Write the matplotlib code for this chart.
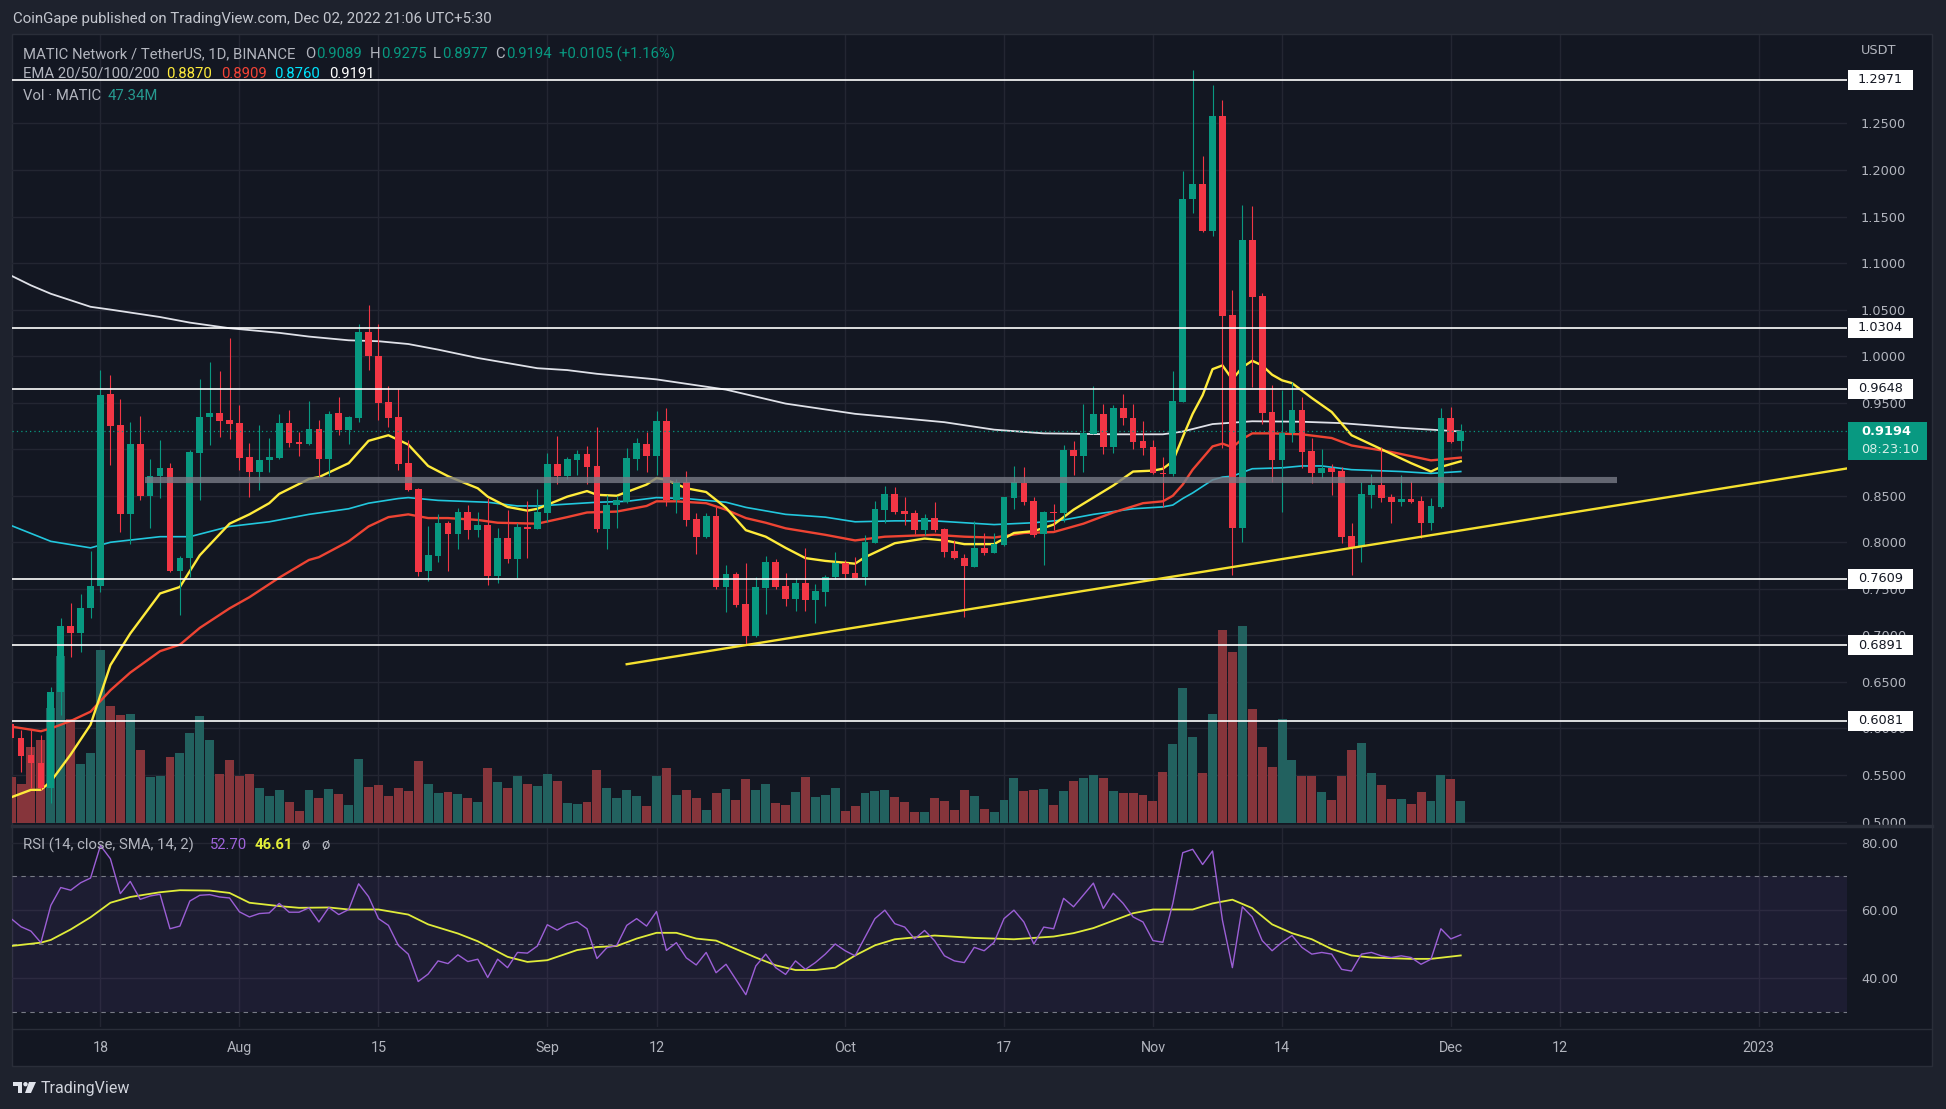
import numpy as np
import pandas as pd
import matplotlib
matplotlib.use("Agg")
from matplotlib import pyplot as plt
from matplotlib import dates as mdates
from matplotlib import transforms
from matplotlib.patches import Rectangle, Polygon, Circle

# ---------------- data ----------------
first_day = "2022-07-09"
opens = [0.6044, 0.5894, 0.5715, 0.5625, 0.5357, 0.6388, 0.7100, 0.7029, 0.7290,
         0.7530, 0.9592, 0.9259, 0.8303, 0.9055, 0.8497, 0.8711, 0.8797, 0.7691, 0.7827,
         0.8962, 0.9342, 0.9385, 0.9313, 0.9277, 0.8912, 0.8758, 0.8883, 0.8908, 0.9277,
         0.9080, 0.9059, 0.9216, 0.8893, 0.9387, 0.9205, 0.9337, 1.0261, 1.0000, 0.9506,
         0.9348, 0.8850, 0.8571, 0.7690, 0.7856, 0.8206, 0.8088, 0.8324, 0.8131, 0.8185,
         0.7637, 0.8045, 0.7823, 0.8163, 0.8141, 0.8317, 0.8840, 0.8711, 0.8883, 0.8951,
         0.8818, 0.8142, 0.8400, 0.8436, 0.8898, 0.9055, 0.8926, 0.9302, 0.8454, 0.8644,
         0.8246, 0.8053, 0.8282, 0.7523, 0.7659, 0.7337, 0.6997, 0.7509, 0.7788, 0.7530,
         0.7390, 0.7562, 0.7379, 0.7466, 0.7627, 0.7777, 0.7673, 0.7630, 0.7996, 0.8350,
         0.8514, 0.8335, 0.8310, 0.8131, 0.8256, 0.8142, 0.7906, 0.7827, 0.7737, 0.7934,
         0.7884, 0.7970, 0.8479, 0.8636, 0.8443, 0.8088, 0.8328, 0.8317, 0.8990, 0.8930,
         0.9162, 0.9377, 0.9026, 0.9438, 0.9330, 0.9087, 0.9019, 0.8747, 0.8729, 0.9509,
         1.1686, 1.1844, 1.1346, 1.2578, 1.0440, 0.8156, 1.1246, 1.0644, 0.9402, 0.8883,
         0.9176, 0.9420, 0.8980, 0.8740, 0.8793, 0.8765, 0.8066, 0.7952, 0.8507, 0.8614,
         0.8489, 0.8435, 0.8464, 0.8443, 0.8210, 0.8382, 0.9331, 0.9089]
highs = [0.6100, 0.5983, 0.5983, 0.5930, 0.6449, 0.7183, 0.7344, 0.7440, 0.7906,
         0.9850, 0.9796, 0.9538, 0.9295, 0.9356, 0.8894, 0.9098, 0.8847, 0.7856, 0.8991,
         0.9753, 0.9932, 0.9839, 1.0190, 0.9474, 0.9062, 0.9259, 0.9116, 0.9377, 0.9417,
         0.9188, 0.9517, 0.9312, 0.9409, 0.9563, 0.9359, 1.0343, 1.0547, 1.0343, 0.9677,
         0.9645, 0.9097, 0.8578, 0.8174, 0.8303, 0.8231, 0.8364, 0.8399, 0.8320, 0.8471,
         0.8149, 0.8346, 0.8203, 0.8446, 0.8571, 0.8962, 0.9144, 0.8919, 0.8990, 0.9036,
         0.9240, 0.8507, 0.8497, 0.9009, 0.9123, 0.9188, 0.9410, 0.9438, 0.8679, 0.8765,
         0.8311, 0.8311, 0.8375, 0.7756, 0.7684, 0.7773, 0.7630, 0.7852, 0.7816, 0.7666,
         0.7612, 0.7935, 0.7551, 0.7648, 0.7899, 0.7809, 0.7845, 0.8078, 0.8443, 0.8604,
         0.8589, 0.8482, 0.8346, 0.8300, 0.8428, 0.8149, 0.8024, 0.7874, 0.8228, 0.8095,
         0.8095, 0.8489, 0.8819, 0.8804, 0.8482, 0.8335, 0.8407, 0.9044, 0.9087, 0.9484,
         0.9678, 0.9484, 0.9474, 0.9592, 0.9484, 0.9302, 0.9098, 0.8919, 0.9839, 1.1987,
         1.3072, 1.2148, 1.2911, 1.2750, 1.0709, 1.1622, 1.1611, 1.0673, 0.9688, 0.9635,
         0.9724, 0.9563, 0.9116, 0.9001, 0.8836, 0.8811, 0.8203, 0.8650, 0.8729, 0.9019,
         0.8514, 0.8722, 0.8657, 0.8496, 0.8472, 0.9438, 0.9456, 0.9275]
lows = [0.5870, 0.5529, 0.5357, 0.5340, 0.5195, 0.6144, 0.6771, 0.6825, 0.7183,
        0.7462, 0.8830, 0.8114, 0.7977, 0.8454, 0.8149, 0.8472, 0.7684, 0.7219, 0.7630,
        0.8454, 0.9045, 0.9134, 0.9109, 0.8776, 0.8489, 0.8561, 0.8758, 0.8894, 0.9027,
        0.8930, 0.9045, 0.8704, 0.8711, 0.9151, 0.9055, 0.9294, 0.9856, 0.9312, 0.9241,
        0.8775, 0.8553, 0.7637, 0.7586, 0.7791, 0.7694, 0.7923, 0.8031, 0.8052, 0.7540,
        0.7558, 0.7780, 0.7619, 0.7834, 0.8141, 0.8220, 0.8625, 0.8675, 0.8722, 0.8625,
        0.8113, 0.7924, 0.8157, 0.8425, 0.8776, 0.8758, 0.8722, 0.8389, 0.8311, 0.8175,
        0.7874, 0.8042, 0.7498, 0.7254, 0.7308, 0.6896, 0.6986, 0.7229, 0.7494, 0.7315,
        0.7265, 0.7265, 0.7129, 0.7315, 0.7609, 0.7602, 0.7620, 0.7541, 0.7988, 0.8210,
        0.8300, 0.8185, 0.8088, 0.8077, 0.8113, 0.7845, 0.7820, 0.7200, 0.7737, 0.7863,
        0.7881, 0.7963, 0.8357, 0.8400, 0.8059, 0.7755, 0.8131, 0.8220, 0.8722, 0.8751,
        0.9162, 0.8944, 0.8954, 0.9259, 0.8997, 0.8937, 0.8729, 0.8382, 0.8715, 0.9502,
        1.1540, 1.1335, 1.1293, 0.9008, 0.7650, 0.8006, 0.9671, 0.9266, 0.8650, 0.8321,
        0.9080, 0.8793, 0.8632, 0.8686, 0.8507, 0.7988, 0.7650, 0.7791, 0.8371, 0.8428,
        0.8203, 0.8393, 0.8418, 0.8049, 0.8131, 0.8371, 0.9062, 0.8977]
closes = [0.5894, 0.5708, 0.5625, 0.5357, 0.6388, 0.7100, 0.7029, 0.7290, 0.7530,
          0.9581, 0.9252, 0.8303, 0.9055, 0.8497, 0.8711, 0.8797, 0.7691, 0.7827, 0.8973,
          0.9342, 0.9385, 0.9306, 0.9274, 0.8908, 0.8758, 0.8883, 0.8915, 0.9277, 0.9070,
          0.9059, 0.9216, 0.8893, 0.9377, 0.9205, 0.9348, 1.0261, 1.0000, 0.9498, 0.9337,
          0.8843, 0.8560, 0.7683, 0.7859, 0.8206, 0.8088, 0.8324, 0.8131, 0.8185, 0.7637,
          0.8045, 0.7816, 0.8160, 0.8141, 0.8324, 0.8840, 0.8711, 0.8890, 0.8951, 0.8811,
          0.8141, 0.8400, 0.8454, 0.8905, 0.9062, 0.8926, 0.9302, 0.8454, 0.8644, 0.8239,
          0.8060, 0.8282, 0.7523, 0.7659, 0.7326, 0.6997, 0.7516, 0.7788, 0.7516, 0.7390,
          0.7562, 0.7379, 0.7476, 0.7630, 0.7777, 0.7659, 0.7620, 0.8006, 0.8357, 0.8518,
          0.8328, 0.8303, 0.8131, 0.8256, 0.8131, 0.7898, 0.7827, 0.7748, 0.7934, 0.7884,
          0.7977, 0.8482, 0.8643, 0.8436, 0.8077, 0.8321, 0.8314, 0.8990, 0.8930, 0.9169,
          0.9377, 0.9026, 0.9438, 0.9330, 0.9080, 0.9016, 0.8740, 0.8729, 0.9517, 1.1693,
          1.1844, 1.1346, 1.2578, 1.0433, 0.8156, 1.1246, 1.0637, 0.9391, 0.8883, 0.9176,
          0.9420, 0.8973, 0.8740, 0.8793, 0.8758, 0.8059, 0.7952, 0.8514, 0.8614, 0.8478,
          0.8435, 0.8464, 0.8435, 0.8210, 0.8389, 0.9331, 0.9080, 0.9194]
volumes = [99, 84, 163, 178, 247, 359, 224, 127, 150,
           372, 252, 232, 234, 157, 99, 101, 142, 150, 194,
           230, 178, 105, 135, 101, 105, 75, 58, 71, 45,
           26, 71, 54, 73, 62, 39, 138, 77, 82, 58,
           75, 69, 133, 84, 65, 67, 62, 54, 45, 118,
           88, 75, 101, 84, 80, 105, 90, 43, 41, 45,
           114, 75, 54, 71, 58, 37, 101, 118, 60, 71,
           54, 28, 65, 73, 49, 95, 71, 84, 43, 39,
           67, 99, 56, 60, 75, 26, 37, 65, 69, 71,
           56, 45, 24, 24, 54, 47, 28, 71, 58, 30,
           24, 49, 97, 69, 71, 73, 39, 69, 90, 97,
           103, 97, 69, 65, 65, 60, 47, 110, 170, 290,
           185, 108, 234, 415, 368, 424, 245, 163, 120, 224,
           135, 101, 101, 67, 49, 101, 157, 172, 108, 82,
           52, 52, 41, 67, 47, 103, 95, 47.34]
rsi = [57.5, 55.1, 53.8, 50.4, 61.4, 66.7, 65.9, 68.1, 69.5,
       79.1, 75.2, 64.9, 68.5, 63.2, 64.2, 64.7, 54.5, 55.3, 62.7,
       64.4, 64.6, 63.9, 63.6, 59.5, 58.0, 59.0, 59.2, 62.0, 59.4,
       59.4, 60.7, 56.5, 60.8, 58.7, 60.2, 67.8, 64.0, 57.5, 55.5,
       49.6, 47.0, 38.9, 41.1, 45.0, 44.2, 46.8, 44.8, 45.5, 40.1,
       45.5, 43.0, 47.5, 47.3, 49.4, 55.7, 54.1, 55.8, 56.6, 54.5,
       45.7, 48.9, 49.6, 55.5, 57.5, 55.3, 59.6, 48.1, 50.4, 45.9,
       43.8, 47.5, 41.5, 44.0, 39.5, 35.0, 43.5, 47.0, 43.0, 41.0,
       45.0, 42.5, 44.5, 47.0, 50.0, 48.0, 46.5, 52.0, 57.5, 60.0,
       56.0, 55.0, 51.5, 54.0, 51.0, 46.5, 45.0, 44.5, 49.0, 48.0,
       50.5, 57.5, 60.0, 56.5, 50.0, 55.0, 54.5, 63.5, 61.0, 64.5,
       68.0, 60.5, 65.0, 62.0, 58.0, 56.5, 51.0, 50.5, 62.0, 77.0,
       78.0, 73.5, 77.5, 57.0, 43.0, 61.0, 58.0, 51.0, 48.0, 50.5,
       52.5, 49.0, 47.0, 47.5, 47.0, 42.5, 42.0, 47.0, 47.5, 46.5,
       46.0, 46.5, 46.0, 44.0, 45.5, 54.5, 51.5, 52.7]

# indicator lines, sampled points (day offset from 2022-07-18, value)
ema20_day = [-9, -7, -6, -5, -3, -1, 1, 3, 6, 8, 10, 13, 15, 17, 18, 21, 22, 25, 27, 29, 31, 33,
             35, 38, 39, 41, 43, 44, 47, 49, 50, 52, 55, 56, 57, 59, 61, 63, 65, 67, 69, 71, 73,
             76, 77, 79, 80, 83, 85, 87, 90, 92, 94, 96, 98, 100, 102, 104, 106, 107, 108, 109,
             110, 111, 112, 113, 114, 115, 116, 117, 118, 119, 120, 122, 124, 126, 128, 130,
             132, 134, 135, 136, 137]
ema20_val = [0.526, 0.534, 0.534, 0.543, 0.572, 0.604, 0.668, 0.702, 0.745, 0.752, 0.786, 0.820,
             0.830, 0.842, 0.852, 0.868, 0.870, 0.885, 0.909, 0.915, 0.905, 0.882, 0.871, 0.858,
             0.849, 0.838, 0.834, 0.836, 0.849, 0.855, 0.851, 0.850, 0.862, 0.869, 0.867, 0.858,
             0.854, 0.837, 0.813, 0.806, 0.794, 0.783, 0.780, 0.777, 0.784, 0.794, 0.799, 0.804,
             0.802, 0.798, 0.798, 0.810, 0.812, 0.819, 0.835, 0.848, 0.861, 0.876, 0.877, 0.879,
             0.887, 0.913, 0.938, 0.958, 0.986, 0.990, 0.975, 0.988, 0.995, 0.990, 0.980, 0.974,
             0.971, 0.955, 0.940, 0.915, 0.905, 0.895, 0.885, 0.876, 0.881, 0.884, 0.887]
ema50_day = [-9, -6, -5, -3, -1, 1, 3, 6, 8, 10, 13, 15, 18, 21, 22, 25, 27, 29, 31, 33, 35, 38,
             40, 44, 47, 49, 52, 55, 56, 58, 61, 63, 65, 67, 69, 73, 76, 79, 84, 87, 90, 93, 96,
             99, 102, 105, 107, 108, 109, 110, 112, 113, 114, 115, 116, 118, 121, 124, 126, 130,
             134, 137]
ema50_val = [0.602, 0.597, 0.600, 0.608, 0.618, 0.641, 0.660, 0.683, 0.690, 0.708, 0.729, 0.741,
             0.762, 0.781, 0.784, 0.801, 0.817, 0.827, 0.830, 0.826, 0.826, 0.824, 0.821, 0.820,
             0.827, 0.832, 0.833, 0.839, 0.844, 0.844, 0.842, 0.835, 0.826, 0.821, 0.815, 0.808,
             0.802, 0.806, 0.808, 0.806, 0.805, 0.810, 0.811, 0.820, 0.832, 0.842, 0.844, 0.850,
             0.862, 0.878, 0.903, 0.906, 0.902, 0.911, 0.917, 0.917, 0.916, 0.912, 0.904, 0.897,
             0.888, 0.891]
ema100_day = [-9, -5, -1, 1, 6, 9, 13, 17, 21, 25, 27, 30, 31, 34, 39, 42, 44, 47, 50, 53, 56, 59,
              61, 63, 65, 69, 73, 76, 80, 84, 87, 90, 94, 97, 100, 104, 107, 108, 109, 110, 112,
              113, 114, 116, 119, 121, 123, 126, 131, 134, 137]
ema100_val = [0.818, 0.801, 0.794, 0.800, 0.806, 0.806, 0.817, 0.822, 0.830, 0.836, 0.842, 0.847,
              0.848, 0.845, 0.843, 0.839, 0.839, 0.841, 0.843, 0.844, 0.848, 0.847, 0.845, 0.843,
              0.8375, 0.830, 0.827, 0.822, 0.823, 0.823, 0.821, 0.819, 0.821, 0.824, 0.830, 0.836,
              0.838, 0.840, 0.847, 0.853, 0.867, 0.870, 0.871, 0.879, 0.880, 0.882, 0.882, 0.878,
              0.876, 0.874, 0.876]
ema200_day = [-9, -7, -5, -1, 1, 6, 9, 13, 18, 21, 25, 28, 31, 34, 38, 44, 47, 50, 56, 63, 69, 76,
              79, 85, 90, 95, 102, 107, 109, 112, 116, 121, 125, 131, 137]
ema200_val = [1.0865, 1.076, 1.067, 1.053, 1.050, 1.042, 1.036, 1.030, 1.025, 1.021, 1.017, 1.016,
              1.013, 1.007, 0.998, 0.987, 0.985, 0.981, 0.975, 0.964, 0.949, 0.938, 0.935, 0.929,
              0.921, 0.917, 0.916, 0.916, 0.919, 0.927, 0.930, 0.9295, 0.928, 0.923, 0.919]
rsi_sma_day = [-9, -6, -5, -3, -1, 1, 3, 6, 8, 11, 13, 15, 18, 20, 23, 25, 28, 31, 33, 36, 38, 41,
               43, 45, 48, 50, 52, 54, 56, 58, 60, 62, 64, 66, 68, 70, 72, 74, 76, 78, 80, 84, 88,
               92, 96, 98, 100, 102, 104, 106, 110, 112, 114, 116, 118, 120, 122, 124, 126, 128,
               132, 134, 137]
rsi_sma_val = [49.4, 50.4, 51.2, 54.3, 57.9, 62.2, 63.9, 65.3, 65.9, 65.8, 65.1, 62.2, 61.2, 60.7,
               60.8, 60.2, 60.2, 58.7, 55.8, 53.1, 50.8, 46.2, 44.7, 45.2, 48.2, 49.1, 49.4, 51.6,
               53.3, 53.3, 51.6, 51.0, 48.5, 46.0, 43.7, 42.3, 42.3, 43.0, 46.6, 49.6, 51.4, 52.5,
               51.8, 51.4, 52.2, 53.2, 54.7, 56.9, 59.1, 60.2, 60.2, 62.0, 63.1, 60.6, 55.8, 53.2,
               51.4, 48.5, 46.6, 46.0, 45.6, 45.6, 46.61]

levels = [1.2971, 1.0304, 0.9648, 0.7609, 0.6891, 0.6081]
band_price = 0.8672
band_days = [4.5, 152.7]
trend_days = [53, 176]
trend_prices = [0.669, 0.8795]
last_price = 0.9194

price_ticks = [0.50, 0.55, 0.60, 0.65, 0.70, 0.75, 0.80, 0.85, 0.90, 0.95, 1.00, 1.05, 1.10, 1.15,
               1.20, 1.25]
hidden_ticks = [0.90]          # covered by the last-price tag
rsi_ticks = [40, 60, 80]
date_ticks = ["2022-07-18", "2022-08-01", "2022-08-15", "2022-09-01", "2022-09-12", "2022-10-01",
              "2022-10-17", "2022-11-01", "2022-11-14", "2022-12-01", "2022-12-12", "2023-01-01"]
date_labels = ["18", "Aug", "15", "Sep", "12", "Oct", "17", "Nov", "14", "Dec", "12", "2023"]

# ---------------- styling ----------------
W, H = 1946, 1109
BG = "#131722"
OUTER = "#1e222d"
GRID = "#232632"
TXT = "#b2b5be"
UP = "#089981"
DOWN = "#f23645"
SANS = ["Roboto", "DejaVu Sans"]
NUM = "DejaVu Sans"

dates = pd.date_range(first_day, periods=len(closes))
x = mdates.date2num(dates)
x0 = mdates.date2num(pd.Timestamp("2022-07-18"))
O, Hh, L, C = map(np.array, (opens, highs, lows, closes))
up = C >= O
cols = np.where(up, UP, DOWN)
vcols = np.where(up, "#22615f", "#86353b")

xlim = (x0 - 8.87, x0 + 175.9)
plim = (0.4984, 1.345)
vlim = (0, 1694)
rlim = (25.45, 84.3)


def rect(l, t, r, b):
    return [l / W, 1 - b / H, (r - l) / W, (b - t) / H]


fig = plt.figure(figsize=(W / 100, H / 100), dpi=100, facecolor=OUTER)
fig.add_artist(Rectangle((12 / W, 1 - 1066 / H), 1920 / W, 1032 / H, transform=fig.transFigure,
                         fc=BG, ec="#2a2e39", lw=1, zorder=-5))

# grid layer
axg = fig.add_axes(rect(12.4, 35, 1847, 823))
axg.set_facecolor("none")
axg.set_xlim(xlim)
axg.set_ylim(plim)
for p in price_ticks:
    axg.axhline(p, color=GRID, lw=1)
for d in date_ticks:
    axg.axvline(mdates.date2num(pd.Timestamp(d)), color=GRID, lw=1)
axg.axis("off")

# volume layer
axv = fig.add_axes(rect(12.4, 35, 1847, 823))
axv.set_facecolor("none")
axv.bar(x, volumes, width=0.9, color=vcols, lw=0)
axv.set_xlim(xlim)
axv.set_ylim(vlim)
axv.axis("off")

# price layer
ax = fig.add_axes(rect(12.4, 35, 1847, 823))
ax.set_facecolor("none")
ax.set_xlim(xlim)
ax.set_ylim(plim)
for s in ax.spines.values():
    s.set_visible(False)
ax.set_xticks([])
ax.yaxis.tick_right()
ax.set_yticks(price_ticks)
ax.set_yticklabels(["" if p in hidden_ticks else f"{p:.4f}" for p in price_ticks])
ax.tick_params(axis="y", length=0, pad=10, labelsize=9.3, labelcolor=TXT)
for t in ax.get_yticklabels():
    t.set_family(NUM)

ax.plot(x0 + np.array(ema200_day), ema200_val, color="#dfe1e8", lw=1.3, zorder=2)
ax.plot(x0 + np.array(ema100_day), ema100_val, color="#22c7dd", lw=1.2, zorder=2)
ax.plot(x0 + np.array(ema50_day), ema50_val, color="#ee4433", lw=1.7, zorder=2)
ax.plot(x0 + np.array(ema20_day), ema20_val, color="#ffeb3b", lw=1.7, zorder=2)

ax.vlines(x, L, Hh, colors=cols, lw=0.8, zorder=3)
ax.bar(x, np.maximum(np.abs(C - O), 0.0012), bottom=np.minimum(O, C), width=0.68,
       color=cols, lw=0, zorder=3)

for lv in levels:
    ax.axhline(lv, color="white", lw=1.2, zorder=4)
ax.plot(x0 + np.array(band_days), [band_price, band_price], color="#787b86", alpha=0.8, lw=4.4,
        solid_capstyle="butt", zorder=5)
ax.plot(x0 + np.array(trend_days), trend_prices, color="#f5e12f", lw=1.7, zorder=5)
ax.axhline(last_price, color=UP, lw=0.9, ls=(0, (1, 2.5)), zorder=4)

# price axis labels
tr = transforms.blended_transform_factory(fig.transFigure, ax.transData)
ppx = (plim[1] - plim[0]) / (823 - 35)
for lv in levels:
    ax.add_patch(Rectangle((1848 / W, lv - 10 * ppx), 65 / W, 20 * ppx, transform=tr,
                           fc="white", ec="none", clip_on=False, zorder=10))
    ax.text(1880.5 / W, lv, f"{lv:.4f}", transform=tr, ha="center", va="center",
            fontsize=9.3, family=NUM, color="#131722", clip_on=False, zorder=11)
ax.add_patch(Rectangle((1848 / W, last_price - 29 * ppx), 79 / W, 38 * ppx, transform=tr,
                       fc=UP, ec="none", clip_on=False, zorder=10))
ax.text(1861 / W, last_price, f"{last_price:.4f}", transform=tr, ha="left", va="center",
        fontsize=9.3, family=NUM, color="white", fontweight="bold", clip_on=False, zorder=11)
ax.text(1861 / W, last_price - 18 * ppx, "08:23:10", transform=tr, ha="left", va="center",
        fontsize=9.3, family=NUM, color="#d8efe9", clip_on=False, zorder=11)
fig.text(1861 / W, 1 - 50 / H, "USDT", fontsize=9.3, family=NUM, color=TXT, va="center")

# RSI pane
axr = fig.add_axes(rect(12.4, 828, 1847, 1027))
axr.set_facecolor("none")
axr.set_xlim(xlim)
axr.set_ylim(rlim)
for s in axr.spines.values():
    s.set_visible(False)
for r in rsi_ticks:
    axr.axhline(r, color=GRID, lw=1, zorder=0)
for d in date_ticks:
    axr.axvline(mdates.date2num(pd.Timestamp(d)), color=GRID, lw=1, zorder=0)
axr.axhspan(30, 70, color="#7e57c2", alpha=0.1, lw=0, zorder=0.5)
for r in (30, 50, 70):
    axr.axhline(r, color="#787b86", lw=0.8, ls=(0, (4, 4)), zorder=1)
axr.plot(x0 + np.array(rsi_sma_day), rsi_sma_val, color="#e0ec3a", lw=1.3, zorder=2)
axr.plot(x, rsi, color="#9c5fd6", lw=1.0, zorder=3)
axr.yaxis.tick_right()
axr.set_yticks(rsi_ticks)
axr.set_yticklabels([f"{r:.2f}" for r in rsi_ticks])
axr.tick_params(axis="y", length=0, pad=10, labelsize=9.3, labelcolor=TXT)
for t in axr.get_yticklabels():
    t.set_family(NUM)
axr.set_xticks([mdates.date2num(pd.Timestamp(d)) for d in date_ticks])
axr.set_xticklabels(date_labels)
axr.tick_params(axis="x", length=0, pad=10, labelsize=10.3, labelcolor=TXT)
for t in axr.get_xticklabels():
    t.set_family(SANS)

# pane separators
fig.add_artist(plt.Line2D([12 / W, 1932 / W], [1 - 825.5 / H] * 2, color="#2a2e39", lw=2.5))
fig.add_artist(plt.Line2D([12 / W, 1932 / W], [1 - 1028.5 / H] * 2, color="#2a2e39", lw=1))


# legend texts
def txt(px, py, s, color, size=10.7, weight="normal"):
    fig.text(px / W, 1 - py / H, s, color=color, fontsize=size, family=SANS, va="center",
             ha="left", fontweight=weight)


txt(13, 19, "CoinGape published on TradingView.com, Dec 02, 2022 21:06 UTC+5:30", "#c3c6ce", 10.8)
txt(23, 54, "MATIC Network / TetherUS, 1D, BINANCE", TXT)
for px, s, c in [(305, "O", TXT), (316, "0.9089", UP), (370, "H", TXT), (381, "0.9275", UP),
                 (433, "L", TXT), (442, "0.8977", UP), (495, "C", TXT), (506, "0.9194", UP),
                 (559, "+0.0105 (+1.16%)", UP)]:
    txt(px, 54, s, c)
txt(23, 74, "EMA 20/50/100/200", TXT)
for px, s, c in [(166, "0.8870", "#ffeb3b"), (221, "0.8909", "#f44336"),
                 (274, "0.8760", "#00e5ff"), (329, "0.9191", "#ffffff")]:
    txt(px, 74, s, c)
txt(23, 96, "Vol · MATIC", TXT)
txt(108, 96, "47.34M", "#26998f")
txt(23, 845, "RSI (14, close, SMA, 14, 2)", TXT)
txt(210, 845, "52.70", "#a064dc")
txt(255, 845, "46.61", "#e3ee3a", weight="bold")
txt(301, 845, "ø", TXT)
txt(321, 845, "ø", TXT)

# TradingView footer
ident = transforms.IdentityTransform()
logo_a = [(13, 1082), (22, 1082), (22, 1093), (18, 1093), (18, 1086), (13, 1086)]
logo_b = [(29, 1082), (36, 1082), (31, 1093), (25, 1093)]
for pts in (logo_a, logo_b):
    fig.add_artist(Polygon([(px, H - py) for px, py in pts], closed=True, fc="#e0e3eb", ec="none",
                           transform=ident))
fig.add_artist(Circle((25.5, H - 1084.2), 2.2, fc="#e0e3eb", ec="none", transform=ident))
txt(41, 1088, "TradingView", "#d1d4dc", 11.5)

fig.savefig("out.png", dpi=100, facecolor=OUTER)
